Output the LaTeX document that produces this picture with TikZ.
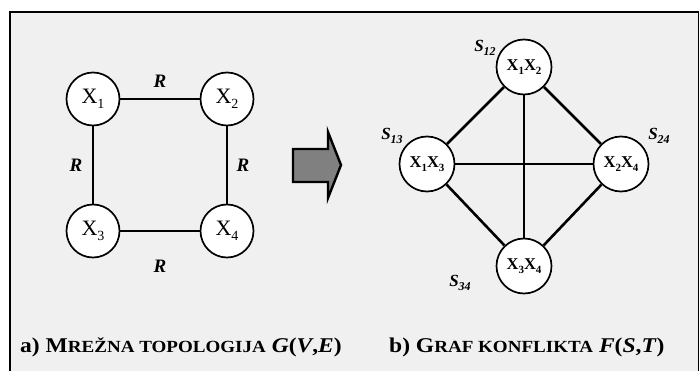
\documentclass[tikz,border=0pt]{standalone}
\usepackage{fontspec}
\setmainfont{Liberation Serif}
\usepackage{graphicx}
\definecolor{bgc}{HTML}{F0F0F0}
\definecolor{arrowc}{HTML}{808080}
\newcommand\fsmall[1]{{\fontsize{17}{17}\selectfont #1}}
\newcommand\subA[1]{\raisebox{-0.22em}{\fontsize{14}{14}\selectfont #1}}
\newcommand\subB[1]{\raisebox{-0.22em}{\fontsize{11}{11}\selectfont #1}}
\newcommand\subS[1]{\raisebox{-0.25em}{\fontsize{12}{12}\selectfont #1}}
\begin{document}
\begin{tikzpicture}[x=1pt,y=-1pt,
  vnode/.style={circle,draw,line width=1.7pt,fill=white,minimum size=53pt,inner sep=0pt,font=\fontsize{22}{22}\selectfont},
  cnode/.style={vnode,minimum size=55pt,font=\bfseries\fontsize{16.5}{16.5}\selectfont},
  edge/.style={line width=2.6pt},
  rlab/.style={inner sep=0pt,font=\bfseries\itshape\fontsize{19}{19}\selectfont},
  slab/.style={inner sep=0pt,font=\bfseries\itshape\fontsize{17}{17}\selectfont},
  captxt/.style={anchor=base west,inner sep=0pt,font=\bfseries\fontsize{21}{21}\selectfont}]
\useasboundingbox (0,0) rectangle (700,371);
\clip (0,0) rectangle (700,371);
\draw[line width=1.6pt, fill=bgc] (10,12) rectangle (698.5,395);
% left graph
\node[vnode] (x1) at (93,99) {X\subA{1}};
\node[vnode] (x2) at (227,99) {X\subA{2}};
\node[vnode] (x3) at (93,231) {X\subA{3}};
\node[vnode] (x4) at (227,231) {X\subA{4}};
\draw[edge] (x1) -- (x2);
\draw[edge] (x1) -- (x3);
\draw[edge] (x2) -- (x4);
\draw[edge] (x3) -- (x4);
\node[rlab] (r12) at (160,81) {R};
\node[rlab] (r13) at (76,165) {R};
\node[rlab] (r24) at (243,165) {R};
\node[rlab] (r34) at (160,266) {R};
% arrow
\draw[line width=2.4pt, line join=miter, fill=arrowc] (293,149) -- (328,149) -- (328,132) -- (341,165) -- (328,198) -- (328,182) -- (293,182) -- cycle;
% right graph
\node[cnode] (s12) at (524,67) {X\subB{1}X\subB{2}};
\node[cnode] (s13) at (427,164) {X\subB{1}X\subB{3}};
\node[cnode] (s24) at (621,164) {X\subB{2}X\subB{4}};
\node[cnode] (s34) at (524,266) {X\subB{3}X\subB{4}};
\draw[edge] (s12) -- (s13);
\draw[edge] (s12) -- (s24);
\draw[edge] (s12) -- (s34);
\draw[edge] (s13) -- (s24);
\draw[edge] (s13) -- (s34);
\draw[edge] (s24) -- (s34);
\node[slab] (l12) at (485,48) {S\subS{12}};
\node[slab] (l13) at (392,136) {S\subS{13}};
\node[slab] (l24) at (659,136) {S\subS{24}};
\node[slab] (l34) at (460,283) {S\subS{34}};
% captions
\node[captxt] (capa) at (20,352.5) {\scalebox{1.12}[1]{a) M\fsmall{REŽNA TOPOLOGIJA} \textit{G}(\textit{V},\textit{E})}};
\node[captxt] (capb) at (389,352.5) {\scalebox{1.12}[1]{b) G\fsmall{RAF KONFLIKTA} \textit{F}(\textit{S},\textit{T})}};
\end{tikzpicture}
\end{document}
